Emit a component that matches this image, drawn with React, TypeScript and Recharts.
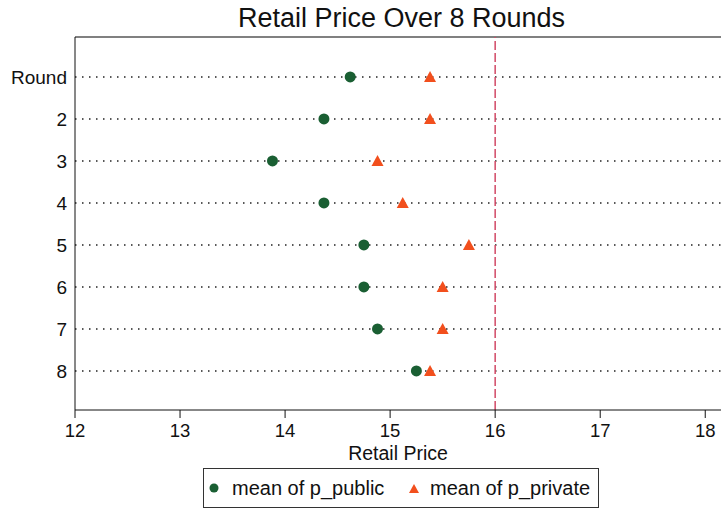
import React from "react";
import { ScatterChart, Scatter, XAxis, YAxis, ReferenceLine } from "recharts";

const roundLabels = ["Round", "2", "3", "4", "5", "6", "7", "8"];
const publicMeans = [14.62, 14.37, 13.88, 14.37, 14.75, 14.75, 14.88, 15.25];
const privateMeans = [15.38, 15.38, 14.88, 15.12, 15.75, 15.5, 15.5, 15.38];
const xTicks = [12, 13, 14, 15, 16, 17, 18];
const referencePrice = 16;

const GREEN = "#1a5f33";
const ORANGE = "#f24f1d";
const FONT = "'Liberation Sans', Arial, sans-serif";
const Y_DOMAIN: [number, number] = [0.05, 8.93];

const publicData = publicMeans.map((value, i) => ({ idx: i + 1, value }));
const privateData = privateMeans.map((value, i) => ({ idx: i + 1, value }));

const Dot = (props: any) => <circle cx={props.cx} cy={props.cy} r={5.5} fill={GREEN} />;

const Tri = (props: any) => {
    const { cx, cy } = props;
    return <polygon points={`${cx - 6},${cy + 5} ${cx + 6},${cy + 5} ${cx},${cy - 6}`} fill={ORANGE} />;
};

export default function App() {
    return (
        <div style={{ position: "absolute", left: 0, top: 0, width: 721, height: 511, background: "#fff", fontFamily: FONT }}>
            <div
                style={{
                    position: "absolute",
                    top: 5,
                    left: 0,
                    width: 803,
                    textAlign: "center",
                    fontSize: 27,
                    lineHeight: "27px",
                    color: "#111",
                }}
            >
                Retail Price Over 8 Rounds
            </div>
            <ScatterChart width={721} height={511} margin={{ top: 37, right: 0, left: 0, bottom: 41 }}>
                <XAxis
                    type="number"
                    dataKey="value"
                    domain={[12, 18.15]}
                    ticks={xTicks}
                    allowDataOverflow
                    height={60}
                    tickSize={8}
                    tickMargin={6}
                    stroke="#111"
                    tick={{ fill: "#111", fontSize: 18.5, fontFamily: FONT }}
                    label={{ value: "Retail Price", position: "insideBottom", offset: 10, fill: "#111", fontSize: 19.5, fontFamily: FONT }}
                />
                <YAxis
                    type="number"
                    dataKey="idx"
                    domain={Y_DOMAIN}
                    ticks={[1, 2, 3, 4, 5, 6, 7, 8]}
                    reversed
                    allowDataOverflow
                    width={75}
                    tickLine={false}
                    stroke="#111"
                    tick={{ fill: "#111", fontSize: 19, fontFamily: FONT }}
                    tickFormatter={(v: number) => roundLabels[v - 1]}
                />
                <ReferenceLine y={Y_DOMAIN[0]} stroke="#808080" strokeWidth={2} />
                {roundLabels.map((_, i) => (
                    <ReferenceLine key={i} y={i + 1} stroke="#222" strokeWidth={1.5} strokeDasharray="1.5 5.5" />
                ))}
                <ReferenceLine x={referencePrice} stroke="#d24a66" strokeWidth={1.5} strokeDasharray="9 3" />
                <Scatter data={publicData} shape={Dot} isAnimationActive={false} />
                <Scatter data={privateData} shape={Tri} isAnimationActive={false} />
            </ScatterChart>
            <div
                style={{
                    position: "absolute",
                    left: 203,
                    top: 468,
                    width: 396,
                    height: 40,
                    boxSizing: "border-box",
                    border: "1px solid #333",
                    fontSize: 20,
                    color: "#111",
                }}
            >
                <svg width={12} height={12} style={{ position: "absolute", left: 4, top: 13 }}>
                    <circle cx={6} cy={6} r={4.5} fill={GREEN} />
                </svg>
                <span style={{ position: "absolute", left: 28, top: 8 }}>mean of p_public</span>
                <svg width={12} height={12} style={{ position: "absolute", left: 204, top: 13 }}>
                    <polygon points="1,11 11,11 6,2" fill={ORANGE} />
                </svg>
                <span style={{ position: "absolute", left: 226, top: 8 }}>mean of p_private</span>
            </div>
        </div>
    );
}
